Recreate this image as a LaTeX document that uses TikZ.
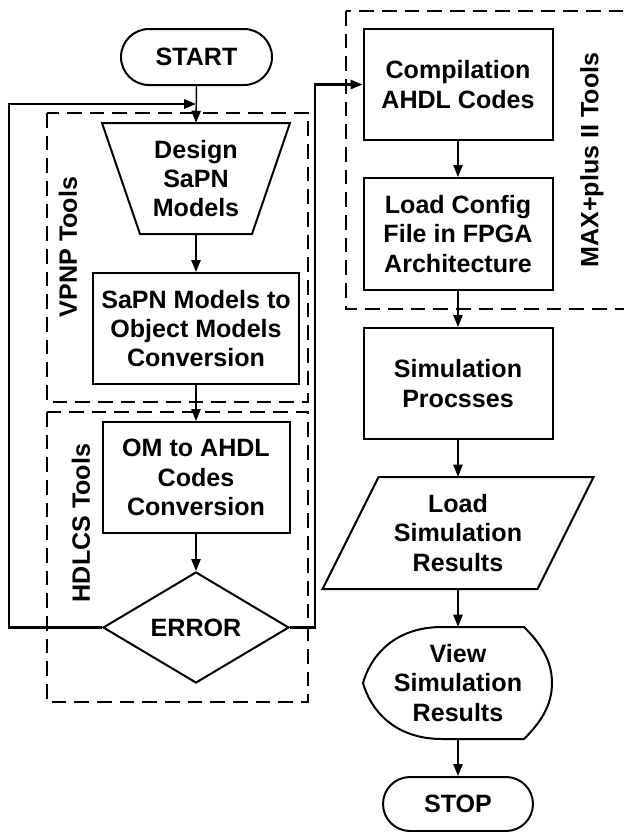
\documentclass[tikz,border=0pt]{standalone}
\usepackage{fontspec}
\setmainfont{Liberation Sans}
\usetikzlibrary{shapes.geometric,shapes.misc,arrows.meta}
\tikzset{
 txt/.style={font=\bfseries\fontsize{18.8}{22}\selectfont, align=center, inner sep=0pt},
 procbox/.style={txt, draw, line width=1.5pt, rectangle},
 term/.style={txt, draw, line width=1.5pt, rounded rectangle},
 outline/.style={draw, line width=1.5pt, line join=miter},
 arr/.style={line width=1.1pt, -{Triangle[length=9pt,width=7pt]}},
 loopline/.style={line width=1.6pt},
 grp/.style={draw, line width=1pt, dash pattern=on 11pt off 6pt},
 grplabel/.style={txt, rotate=90},
}
\begin{document}
\begin{tikzpicture}[x=0.75pt,y=-0.75pt]
\useasboundingbox (0,0) rectangle (624,832);
% group boxes
\draw[grp] (47,113) rectangle (308,402);
\draw[grp] (47,412) rectangle (308,702);
\draw[grp] (346,11) rectangle (640,309);
\node[grplabel] (vpnpl) at (68,247) {VPNP Tools};
\node[grplabel] (hdlcsl) at (81,523) {HDLCS Tools};
\node[grplabel] (maxl) at (592,160) {MAX+plus II Tools};
% left column
\node[term, minimum width=113.25pt, minimum height=42pt] (start) at (196.5,57) {START};
\draw[outline] (102,123) -- (290,123) -- (252,234) -- (140,234) -- cycle;
\node[txt, minimum width=141pt, minimum height=83.25pt] (design) at (196,178.5) {Design\\SaPN\\Models};
\node[procbox, minimum width=154.5pt, minimum height=83.25pt] (conv) at (196,328.5) {SaPN Models to\\Object Models\\Conversion};
\node[procbox, minimum width=140.25pt, minimum height=83.25pt] (om) at (196,477.5) {OM to AHDL\\Codes\\Conversion};
\node[txt, draw, line width=1.5pt, diamond, aspect=1.676, minimum width=139.5pt, minimum height=83.25pt] (error) at (196,627.5) {ERROR};
% right column
\node[procbox, minimum width=141.75pt, minimum height=83.25pt] (comp) at (458,84.5) {Compilation\\AHDL Codes};
\node[procbox, minimum width=141.75pt, minimum height=84pt] (load) at (458,234) {Load Config\\File in FPGA\\Architecture};
\node[procbox, minimum width=141.75pt, minimum height=83.25pt] (sim) at (458,383.5) {Simulation\\Procsses};
\draw[outline] (378.5,477) -- (593.5,477) -- (537.5,589) -- (322.5,589) -- cycle;
\node[txt, minimum width=203.25pt, minimum height=84pt] (lsr) at (458,533) {Load\\Simulation\\Results};
\draw[outline] (363,683) .. controls (372,652) and (398,627) .. (442,627) -- (524,627)
  .. controls (540,643) and (552,660) .. (552,683)
  .. controls (552,706) and (540,723) .. (524,739) -- (442,739)
  .. controls (398,739) and (372,714) .. (363,683) -- cycle;
\node[txt, minimum width=141.75pt, minimum height=84pt] (view) at (458,683) {View\\Simulation\\Results};
\node[term, minimum width=112.5pt, minimum height=40.5pt] (stop) at (458,804) {STOP};
% connectors
\coordinate (fb) at (196,104);
\coordinate (fbl) at (9,627.5);
\coordinate (fbr) at (315,627.5);
\draw[arr] (start.south) -- (design.north);
\draw[arr] (design.south) -- (conv.north);
\draw[arr] (conv.south) -- (om.north);
\draw[arr] (om.south) -- (error.north);
\draw[arr, loopline] (error.west) -- (fbl) |- (fb);
\draw[arr, loopline] (error.east) -- (fbr) |- (comp.west);
\draw[arr] (comp.south) -- (load.north);
\draw[arr] (load.south) -- (sim.north);
\draw[arr] (sim.south) -- (lsr.north);
\draw[arr] (lsr.south) -- (view.north);
\draw[arr] (view.south) -- (stop.north);
\end{tikzpicture}
\end{document}
